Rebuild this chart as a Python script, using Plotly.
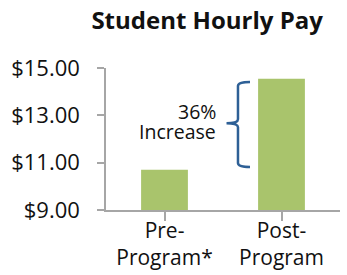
import plotly.graph_objects as go

categories = ["Pre-<br>Program*", "Post-<br>Program"]
pay = [10.70, 14.55]
y_ticks = [9, 11, 13, 15]
y_tick_labels = ["$9.00", "$11.00", "$13.00", "$15.00"]
increase_pct = "36%"
increase_word = "Increase"

bar_color = "#A9C46C"
brace_color = "#2E6096"
axis_color = "#A6A6A6"
font_family = "Open Sans, Lato, sans-serif"

fig = go.Figure()
fig.add_trace(go.Bar(x=[0, 1], y=pay, marker=dict(color=bar_color, line=dict(width=0)),
                     width=0.4, hoverinfo="skip"))

# curly brace spanning from pre-program pay to post-program pay
y0 = pay[0] + 0.12
y1 = pay[1] - 0.14
ym = (y0 + y1) / 2 + 0.05
xr = 0.731   # curl ends
xs = 0.628   # vertical stem
xt = 0.530   # tip
c = 0.17
path = (f"M {xr},{y1} Q {xs},{y1} {xs},{y1 - c} "
        f"L {xs},{ym + c} Q {xs},{ym} {xt},{ym} "
        f"Q {xs},{ym} {xs},{ym - c} "
        f"L {xs},{y0 + c} Q {xs},{y0} {xr},{y0}")
fig.add_shape(type="path", path=path, xref="x", yref="y",
              line=dict(color=brace_color, width=2.5))

fig.add_annotation(x=0.457, y=ym + 0.50, xref="x", yref="y", text=increase_pct,
                   showarrow=False, xanchor="right", yanchor="middle", align="right",
                   font=dict(family=font_family, size=19.5, color="#111111"))
fig.add_annotation(x=0.457, y=ym - 0.36, xref="x", yref="y", text=increase_word,
                   showarrow=False, xanchor="right", yanchor="middle", align="right",
                   font=dict(family=font_family, size=19.5, color="#111111"))

fig.update_layout(
    width=347, height=275,
    margin=dict(l=106, r=7, t=68, b=65),
    paper_bgcolor="white", plot_bgcolor="white",
    showlegend=False,
    title=dict(text="<b>Student Hourly Pay</b>", x=0.597, xanchor="center",
               y=0.924, yanchor="middle",
               font=dict(family=font_family, size=24, color="#111111")),
    font=dict(family=font_family, size=20, color="#111111"),
)
fig.update_xaxes(tickmode="array", tickvals=[0, 1], ticktext=categories,
                 range=[-0.5, 1.5], showline=True, linecolor=axis_color, linewidth=1.5,
                 ticks="outside", tickson="boundaries", ticklen=9, tickcolor=axis_color,
                 tickwidth=1.5, showgrid=False, zeroline=False, automargin=False,
                 ticklabelstandoff=-8,
                 tickfont=dict(family=font_family, size=21, color="#111111"))
fig.update_yaxes(tickmode="array", tickvals=y_ticks, ticktext=y_tick_labels,
                 range=[9, 15], showline=True, linecolor=axis_color, linewidth=1.5,
                 ticks="outside", ticklen=7, tickcolor=axis_color, tickwidth=1.5,
                 showgrid=False, zeroline=False, automargin=False,
                 ticklabelstandoff=13,
                 tickfont=dict(family=font_family, size=22, color="#111111"))

fig.write_html("out.html", config={"displayModeBar": False},
               post_script="document.body.style.margin='0px';")
